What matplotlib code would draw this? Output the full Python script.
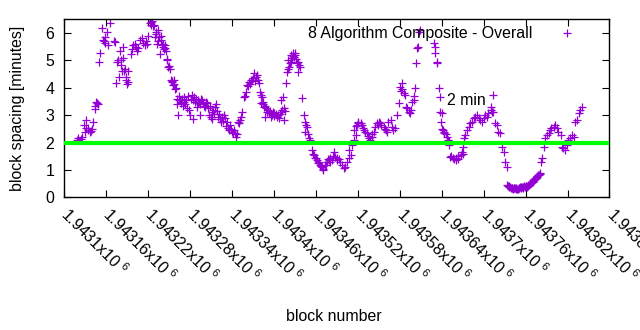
import matplotlib
matplotlib.use("Agg")
import matplotlib.pyplot as plt

# ---------------- data ----------------
BASE_BLOCK = 1943100

block_offsets = [
    19, 20, 24, 26, 29, 30, 31, 32, 34, 35, 37, 38, 40, 42, 44, 45, 46, 47, 48,
    50, 52, 54, 56, 57, 58, 59, 61, 63, 66, 71, 73, 75, 76, 77, 79, 80, 81, 82,
    83, 84, 85, 86, 87, 88, 89, 90, 91, 92, 96, 97, 99, 101, 103, 105, 106, 109,
    111, 113, 116, 117, 119, 120, 123, 124, 125, 126, 127, 128, 130, 131, 132,
    133, 134, 135, 136, 137, 138, 139, 140, 141, 142, 143, 144, 145, 146, 147,
    148, 149, 150, 151, 153, 154, 155, 156, 157, 158, 159, 160, 161, 162, 163,
    164, 165, 166, 167, 168, 169, 170, 171, 172, 173, 174, 176, 177, 179, 180,
    181, 183, 184, 185, 186, 187, 189, 190, 191, 192, 193, 194, 195, 196, 197,
    199, 200, 201, 203, 204, 206, 207, 209, 210, 211, 212, 213, 214, 216, 217,
    219, 220, 221, 223, 224, 226, 227, 229, 230, 231, 233, 234, 236, 237, 239,
    240, 241, 243, 244, 246, 247, 249, 250, 251, 253, 254,
    257, 259, 260, 261, 263, 264, 266, 267, 269, 270, 271, 273, 274, 276, 277,
    279, 280, 281, 282, 283, 284, 285, 286, 287, 288, 289, 290, 291, 293, 294,
    296, 297, 299, 300, 301, 303, 304, 306, 307, 309, 310, 311, 312, 313, 314,
    315, 316, 317, 319, 320, 321, 322, 323, 324, 325, 326, 327, 328, 329, 330,
    331, 332, 333, 334, 335, 336, 338, 340, 343, 344, 345, 346, 348, 349, 350,
    352, 355, 356, 357, 359, 360, 362, 363, 364, 366, 367, 369, 370, 371, 373,
    374, 376, 377, 379, 380, 381, 383, 384, 386, 388, 390, 391, 393, 395, 397,
    400, 402, 405, 407, 408, 410, 412, 414, 415, 417, 418, 419, 420, 421, 424,
    426, 427, 429, 431, 433, 434, 436, 438, 440, 441, 443, 445, 448, 449, 450,
    452, 454, 457, 459, 460, 462, 464, 467, 469, 471, 474, 476, 479, 481, 482,
    483, 484, 486, 488, 489, 490, 493, 495, 496, 498, 500, 501, 502, 504, 505,
    506, 507, 509,
    529, 530, 531, 533, 534, 536, 537, 538, 539, 540, 541, 542, 543, 544, 546,
    547, 549, 550, 551, 552, 554, 556, 557, 560, 561, 563, 564, 567, 569, 570,
    571, 572, 574, 576, 579, 581, 583, 586, 588, 590, 593, 595, 598, 600, 602,
    605, 607, 610, 611, 612, 613, 614, 617, 619, 621, 624, 626, 629, 631, 633,
    634, 635, 636, 637, 638, 639, 640, 641, 642, 643, 644, 645, 646, 647, 648,
    649, 650, 651, 652, 653, 654, 655, 656, 657, 658, 659, 660, 661, 662, 663,
    664, 665, 666, 667, 668, 669, 670, 671, 672, 673, 674, 675, 676, 677, 678,
    679, 680, 681, 682, 683, 686, 688, 690, 693, 695, 697, 700, 702, 705, 707,
    710, 712, 714, 717, 719, 721, 724, 726, 729, 731, 733, 736, 738, 741,
]

spacing_minutes = [
    2.10, 2.15, 2.14, 2.22, 2.64, 2.37, 2.82, 2.52, 2.46, 2.55, 2.37, 2.42, 2.50, 2.76, 3.23, 3.35, 3.47, 3.45, 3.40,
    4.95, 5.28, 6.17, 5.75, 5.70, 5.65, 5.85, 6.05, 5.55, 6.38, 5.72, 5.68, 4.16, 4.95, 5.00, 4.40, 5.35, 5.00, 4.85,
    4.60, 5.10, 5.50, 4.60, 4.70, 4.40, 4.30, 4.15, 4.20, 4.60, 5.25, 5.40, 5.55, 5.60, 5.50, 5.35, 5.45, 5.75,
    5.80, 5.65, 5.55, 5.70, 5.60, 5.90, 6.35, 6.40, 6.30, 6.45, 6.25, 6.30, 5.85, 6.05, 5.95,
    5.60, 5.70, 6.10, 5.85, 5.23, 5.75, 5.90, 5.55, 5.50, 5.60, 5.40, 5.45, 5.55, 5.35, 5.05,
    5.00, 4.75, 4.80, 4.70, 4.30, 4.20, 4.25, 4.10, 4.15, 4.30, 3.95, 4.00, 3.60, 3.40, 3.00,
    3.55, 3.70, 3.55, 3.50, 3.45, 3.60, 3.35, 3.50, 3.65, 3.40, 3.55, 3.25, 3.70, 3.20, 3.00,
    3.60, 3.75, 3.55, 2.85, 3.65, 3.50, 3.60, 3.30, 3.45, 3.55, 3.50, 3.40, 3.00, 3.60, 3.55,
    3.45, 3.35, 3.30, 3.50, 3.45, 3.25, 3.00, 3.35, 2.95, 2.85, 3.10, 3.20, 3.05, 3.30, 3.40,
    3.15, 2.95, 3.05, 2.85, 2.75, 2.95, 2.80, 3.00, 2.90, 2.60, 2.75, 2.55, 2.45, 2.65, 2.50,
    2.40, 2.34, 2.46, 2.34, 2.22, 2.30, 2.76, 2.70, 2.82, 2.95, 3.13,
    3.66, 3.70, 3.86, 4.10, 4.05, 4.22, 4.15, 4.28, 4.30, 4.35, 4.53, 4.25, 4.40, 4.47, 4.30,
    4.16, 3.85, 3.74, 3.45, 3.68, 3.40, 3.50, 3.31, 2.95, 3.35, 3.26, 3.13, 3.20, 3.07, 3.15,
    2.95, 3.00, 3.10, 3.07, 2.98, 3.05, 2.95, 3.00, 2.89, 3.05, 3.10, 3.55, 3.20, 3.66, 3.26,
    2.82, 3.15, 4.16, 4.59, 5.01, 4.70, 4.77, 4.90, 4.95, 5.20, 5.08, 5.26, 5.15, 5.14, 5.20,
    5.26, 5.05, 4.89, 4.59, 4.95, 4.83, 4.77, 3.62, 3.00, 2.40, 2.76, 2.65, 2.58, 2.30, 2.16,
    2.10, 1.73, 1.60, 1.55, 1.45, 1.43, 1.36, 1.25, 1.30, 1.20, 1.15, 1.12, 1.05, 1.00, 1.20,
    1.18, 1.30, 1.40, 1.36, 1.45, 1.30, 1.36, 1.50, 1.67, 1.49, 1.43, 1.35, 1.40, 1.30, 1.20,
    1.06, 1.12, 1.30, 1.43, 1.73, 1.55, 1.91, 2.10, 2.46, 2.28, 2.60, 2.64, 2.72, 2.76, 2.70,
    2.64, 2.55, 2.46, 2.40, 2.34, 2.25, 2.16, 2.10, 2.22, 2.30, 2.40, 2.58, 2.70, 2.65, 2.76,
    2.70, 2.65, 2.58, 2.50, 2.45, 2.40, 2.76, 2.82, 2.58, 2.46, 2.52, 3.00, 3.43, 4.04, 3.90,
    4.16, 3.95, 3.80, 3.74, 3.30, 3.25, 3.13, 3.07, 3.20, 3.49, 3.55, 3.70, 3.98, 4.89, 5.44,
    5.50, 6.05, 6.10,
    5.62, 5.50, 5.26, 4.95, 4.90, 3.98, 3.66, 3.10, 2.75, 3.07, 2.50, 2.45, 2.40, 2.35, 2.30,
    2.20, 2.10, 2.05, 1.90, 1.49, 1.50, 1.45, 1.40, 1.36, 1.42, 1.40, 1.50, 1.55, 1.67, 1.60,
    1.85, 2.16, 2.28, 2.46, 2.58, 2.70, 2.76, 2.89, 2.95, 3.00, 2.89, 2.82, 2.76, 2.89, 3.00,
    2.95, 3.07, 3.19, 3.31, 3.13, 3.74, 3.13, 2.70, 2.64, 2.40, 2.34, 1.85, 1.67, 1.30, 1.12,
    0.45, 0.42, 0.40, 0.38, 0.37, 0.35, 0.36, 0.34, 0.32, 0.33, 0.35, 0.33, 0.30, 0.34, 0.31,
    0.32, 0.33, 0.35, 0.39, 0.37, 0.36, 0.38, 0.36, 0.39, 0.40, 0.38, 0.40, 0.42, 0.39, 0.43,
    0.45, 0.47, 0.49, 0.51, 0.53, 0.55, 0.58, 0.64, 0.62, 0.67, 0.70, 0.72, 0.76, 0.78, 0.80,
    0.82, 0.85, 0.88, 1.30, 1.43, 1.85, 2.16, 2.28, 2.34, 2.46, 2.52, 2.58, 2.64, 2.52, 2.40,
    2.28, 1.85, 1.79, 1.73, 1.91, 2.10, 2.16, 2.28, 2.22, 2.76, 2.82, 3.07, 3.19, 3.31,
]

target_minutes = 2
x_ticks = [1943100, 1943160, 1943220, 1943280, 1943340, 1943400, 1943460,
           1943520, 1943580, 1943640, 1943700, 1943760, 1943820, 1943880]
x_tick_mantissas = ["1.9431", "1.94316", "1.94322", "1.94328", "1.94334", "1.9434",
                    "1.94346", "1.94352", "1.94358", "1.94364", "1.9437", "1.94376",
                    "1.94382", "1.94388"]
y_ticks = [0, 1, 2, 3, 4, 5, 6]
series_label = "8 Algorithm Composite - Overall"
target_label = "2 min"
target_label_block = 1943647
target_label_value = 3.52

# ---------------- styling ----------------
plt.rcParams['font.family'] = ['Liberation Sans', 'DejaVu Sans']
plt.rcParams['mathtext.fontset'] = 'custom'
plt.rcParams['mathtext.rm'] = 'Liberation Sans'
plt.rcParams['mathtext.it'] = 'Liberation Sans:italic'
plt.rcParams['mathtext.bf'] = 'Liberation Sans:bold'
FS = 11.4

fig = plt.figure(figsize=(6.4, 3.3), dpi=100)
ax = fig.add_axes([0.1, 0.4018, 0.8523, 0.5397])

blocks = [BASE_BLOCK + o for o in block_offsets]
ax.plot(blocks, spacing_minutes, linestyle='none', marker='+', markersize=5.5,
        markeredgewidth=0.9, color='#9400d3', label=series_label, zorder=2)
ax.axhline(target_minutes, color='#00ff00', linewidth=3, zorder=3)
ax.text(target_label_block, target_label_value, target_label, ha='left', va='center',
        fontsize=FS, color='black', zorder=4)

ax.set_xlim(x_ticks[0], x_ticks[-1])
ax.set_ylim(0, 6.5)
ax.set_xticks(x_ticks)
ax.set_xticklabels([m + "x10 $^{6}$" for m in x_tick_mantissas], rotation=-45,
                   ha='left', va='center', rotation_mode='anchor', fontsize=FS)
ax.set_yticks(y_ticks)
ax.set_yticklabels([str(v) for v in y_ticks], fontsize=FS)
ax.tick_params(direction='in', length=5, width=0.8, top=True, right=True, color='black')
ax.tick_params(axis='x', pad=9.8)
ax.tick_params(axis='y', pad=7)
for s in ax.spines.values():
    s.set_linewidth(1.0)
    s.set_color('black')

ax.set_xlabel("block number", fontsize=FS)
ax.xaxis.set_label_coords(0.495, -0.625)
ax.set_ylabel("block spacing [minutes]", fontsize=FS)
ax.yaxis.set_label_coords(-0.072, 0.5)

ax.legend(loc='upper right', bbox_to_anchor=(0.958, 0.962), frameon=False,
          markerfirst=False, handlelength=2.5, handletextpad=0.9, borderpad=0,
          borderaxespad=0, fontsize=FS, numpoints=1)

fig.savefig("out.png", dpi=100)
